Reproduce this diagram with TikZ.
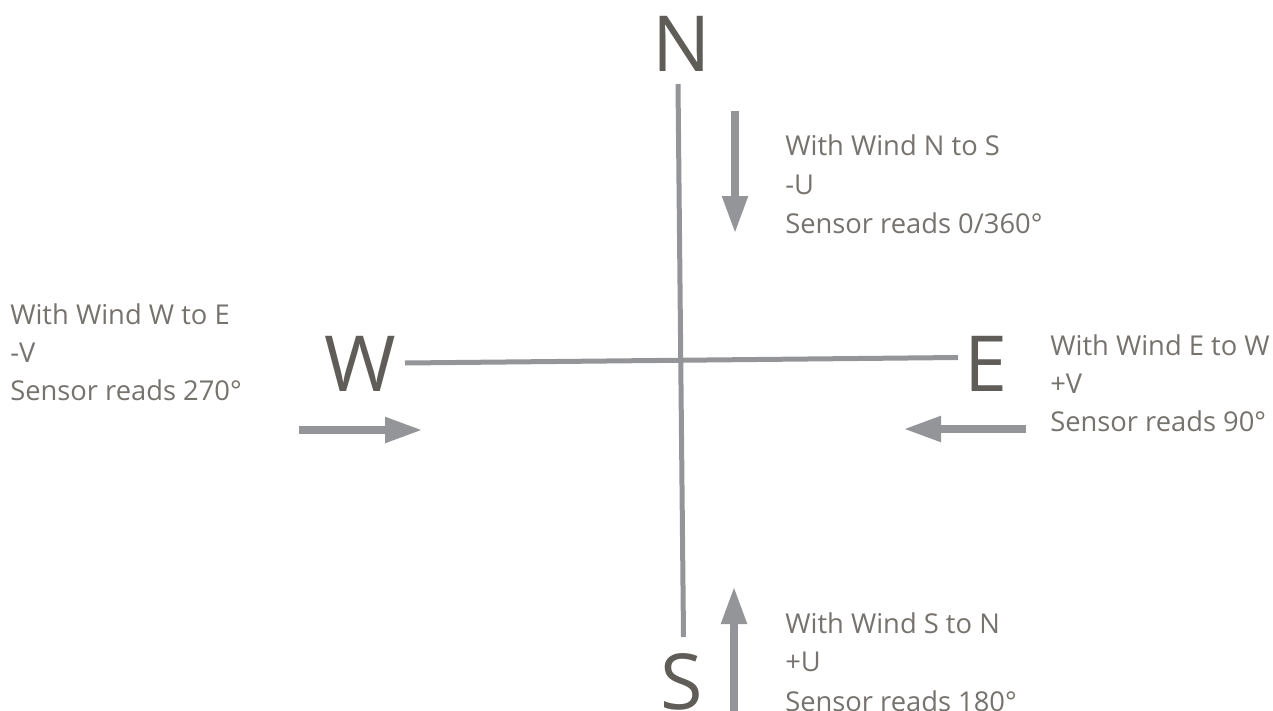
\documentclass[tikz,border=0pt]{standalone}
\usepackage{fontspec}
\setmainfont{Open Sans}
\usetikzlibrary{arrows.meta}
\definecolor{axisgray}{HTML}{939598}
\definecolor{lettergray}{HTML}{605D58}
\definecolor{labelgray}{HTML}{76726E}
\tikzset{
  axisline/.style={draw=axisgray, line width=3.75pt},
  windarrow/.style={draw=axisgray, line width=6pt,
    -{Triangle[length=27pt,width=20pt,line width=0pt]}},
  compass/.style={inner sep=0pt, anchor=base, text=lettergray,
    font=\fontsize{58pt}{58pt}\selectfont},
  info/.style={inner sep=0pt, anchor=base west, text=labelgray,
    font=\fontsize{20.5pt}{25pt}\selectfont}
}
\begin{document}
\begin{tikzpicture}[x=0.75pt,y=-0.75pt]
\useasboundingbox (0,0) rectangle (1273,710);
% compass letters
\node[compass] (N) at (681.5,71) {N};
\node[compass] (W) at (360,391) {W};
\node[compass] (E) at (986,391) {E};
\node[compass] (S) at (682,709) {S};
% axes
\coordinate (axN) at (678,84);
\coordinate (axS) at (683.5,637);
\coordinate (axW) at (405,363);
\coordinate (axE) at (958,357.5);
\draw[axisline] (axN) -- (axS);
\draw[axisline] (axW) -- (axE);
% wind arrows
\coordinate (aNs) at (735,111);
\coordinate (aNe) at (735,232);
\coordinate (aSs) at (734,715);
\coordinate (aSe) at (734,588);
\coordinate (aWs) at (299,430);
\coordinate (aWe) at (421,430);
\coordinate (aEs) at (1026,429);
\coordinate (aEe) at (905,429);
\draw[windarrow] (aNs) -- (aNe);
\draw[windarrow] (aSs) -- (aSe);
\draw[windarrow] (aWs) -- (aWe);
\draw[windarrow] (aEs) -- (aEe);
% labels
\node[info] (tN1) at (785,155) {With Wind N to S};
\node[info] (tN2) at (785,194) {-U};
\node[info] (tN3) at (785,233) {Sensor reads 0/360°};
\node[info] (tW1) at (10,324) {With Wind W to E};
\node[info] (tW2) at (10,362) {-V};
\node[info] (tW3) at (10,400) {Sensor reads 270°};
\node[info] (tE1) at (1050,355) {With Wind E to W};
\node[info] (tE2) at (1050,393) {+V};
\node[info] (tE3) at (1050,431) {Sensor reads 90°};
\node[info] (tS1) at (785,633) {With Wind S to N};
\node[info] (tS2) at (785,671) {+U};
\node[info] (tS3) at (785,711) {Sensor reads 180°};
\end{tikzpicture}
\end{document}
